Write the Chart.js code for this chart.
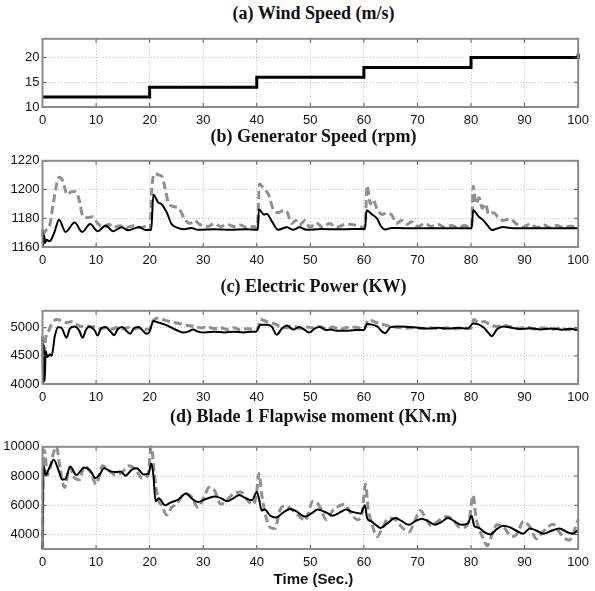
<!DOCTYPE html>
<html>
<head>
<meta charset="utf-8">
<script src="https://cdn.jsdelivr.net/npm/chart.js@4.4.0/dist/chart.umd.min.js"></script>
<style>
  body { margin: 0; background: #fff; }
  #wrap { position: relative; width: 595px; height: 591px; overflow: hidden; }
  canvas { position: absolute; left: 0; }
  .ttl { position: absolute; left: 42px; width: 543px; text-align: center;
         font: bold 18px "Liberation Serif", "Times New Roman", serif; color: #111; white-space: nowrap; }
  .xl { position: absolute; left: 42px; width: 543px; text-align: center;
        font: bold 15px "Liberation Sans", Arial, sans-serif; color: #111; }
</style>
</head>
<body>
<div id="wrap">
  <div class="ttl" style="top:3px">(a) Wind Speed (m/s)</div>
  <canvas id="ca" width="595" height="105" style="top:28px"></canvas>
  <div class="ttl" style="top:126px">(b) Generator Speed (rpm)</div>
  <canvas id="cb" width="595" height="123" style="top:150px"></canvas>
  <div class="ttl" style="top:276px">(c) Electric Power (KW)</div>
  <canvas id="cc" width="595" height="110" style="top:300px"></canvas>
  <div class="ttl" style="top:406px">(d) Blade 1 Flapwise moment (KN.m)</div>
  <canvas id="cd" width="595" height="139" style="top:436px"></canvas>
  <div class="xl" style="top:570px">Time (Sec.)</div>
</div>
<script>
// time axis shared by all panels
const timeTicks = [0, 10, 20, 30, 40, 50, 60, 70, 80, 90, 100];

// (a) wind speed, step input
const windSpeed = [[0, 12], [20, 14], [40, 16], [60, 18], [80, 20], [99.6, 20], [100, 20.8]];
const windTicks = [10, 15, 20];

// (b) generator speed, rpm  (solid = black, dashed = grey)
const genSolid = [[0,1172],[0.15,1161],[0.3,1168],[0.5,1163],[0.8,1165],[1.2,1164],[1.6,1165],[2.2,1170],[3.1,1179],[4.3,1170.5],[6.0,1177],[7.4,1170.5],[8.9,1176],[10.3,1171],[11.8,1175],[13.2,1171],[14.8,1173.7],[16.0,1171.6],[18.0,1174],[19.2,1171.8],[20.3,1172],[20.7,1196.4],[21.6,1191],[22.2,1190],[23.2,1184],[24.1,1176],[25.0,1173.7],[26.5,1172.4],[27.8,1173.3],[29.0,1172],[32,1172.3],[35,1172],[38,1172.3],[40.2,1172],[40.4,1186.3],[41.3,1182.7],[41.9,1183],[42.8,1178],[44.0,1172],[45.6,1173.7],[46.8,1172],[48.0,1173.7],[49.3,1172],[52,1172.5],[55,1172.3],[58,1172.5],[60.2,1172.5],[60.5,1185.5],[61.5,1182.7],[62.5,1179.6],[63.1,1175],[64.0,1172.2],[65.2,1173.3],[68,1173],[72,1173],[76,1173],[80.1,1173],[80.4,1185.5],[81.4,1181.3],[82.3,1178.5],[83.3,1174],[83.9,1171.8],[84.8,1172.8],[86.0,1174],[87.3,1173.3],[90,1173],[95,1173],[100,1173]];
const genDash = [[0,1168],[0.5,1171],[1.4,1176],[2.0,1190],[3.1,1208.6],[3.8,1206],[4.6,1196.4],[5.4,1198.5],[6.2,1198.5],[6.9,1192],[7.5,1181.7],[8.6,1180.6],[9.4,1181],[10.3,1176.4],[11.5,1173.7],[12.4,1175.8],[13.3,1173.7],[14.5,1174.8],[15.7,1173.5],[17,1174.8],[18.3,1173.5],[19.5,1174.5],[20.1,1172],[20.4,1200.6],[21.0,1211],[21.8,1210],[22.3,1209],[22.9,1200.6],[23.6,1190],[24.7,1188],[25.6,1186.3],[26.5,1179.6],[27.5,1176.4],[28.4,1178.5],[29.3,1175.8],[30.9,1174.3],[32.1,1176.4],[33.3,1174.3],[34.5,1175.8],[35.7,1174.3],[37,1175.4],[38.2,1173.3],[39.4,1174.3],[40.1,1173.3],[40.5,1203.8],[41.3,1200.6],[42.2,1196.4],[43.1,1186],[44,1184],[45,1185.5],[45.7,1184],[46.5,1176.4],[47.3,1178.5],[48,1175.4],[49,1178.5],[49.9,1173.7],[51.1,1176.8],[52.3,1173.7],[53.6,1176.4],[54.8,1173.7],[56.6,1175.8],[58.2,1175.4],[59.7,1173.7],[60.2,1174],[60.6,1202.7],[61.2,1190],[61.7,1193],[62.5,1186],[63.4,1182.7],[64.3,1183.8],[65.3,1181.7],[66.1,1176.4],[67,1178.5],[68,1175.8],[68.9,1177.5],[70.1,1174.3],[71.4,1176.4],[72.6,1174.3],[73.8,1175.8],[75.1,1173.7],[76.3,1175],[77.5,1173.7],[78.8,1175],[79.7,1173.7],[80.1,1174],[80.4,1202.3],[80.9,1190],[81.5,1194.3],[82.1,1187],[82.7,1190],[83.3,1182.7],[84.2,1183.8],[85.1,1180.6],[86,1178.5],[87.3,1179.6],[88.5,1176],[89.8,1174],[91,1176],[92.3,1173.5],[93.5,1175.5],[94.8,1173.5],[96,1175],[97.3,1173.5],[98.5,1174.5],[100,1174]];
const genTicks = [1160, 1180, 1200, 1220];

// (c) electric power, kW
const powSolid = [[0,4850],[0.1,4000],[0.25,4700],[0.4,4050],[0.6,4580],[0.9,4480],[1.4,4527],[1.7,4500],[2.3,4850],[2.9,5010],[3.5,5000],[4.5,4823],[5.1,4984],[6,5020],[6.8,4957],[7.5,4823],[8.1,4957],[8.7,5020],[9.7,4957],[10.3,4860],[10.9,4984],[11.8,5011],[12.7,4930],[13.4,4866],[14,4968],[14.9,5011],[15.8,4930],[16.4,4892],[17,4984],[17.9,5011],[18.9,4930],[19.5,4892],[20,4930],[20.7,5118],[21.6,5091],[22.9,5054],[24.1,5000],[25.3,4946],[26.2,4914],[27.2,4930],[28.1,4968],[29,4930],[30.3,4914],[32.1,4930],[34,4914],[35.7,4930],[37.6,4914],[38.8,4930],[39.9,4930],[40.7,5054],[41.9,5054],[42.8,5021],[43.7,4876],[44.7,4984],[45.6,5038],[46.8,4968],[48,5011],[49,4957],[49.8,4914],[50.8,4984],[51.7,5011],[53,4957],[53.9,4968],[54.8,4946],[56.6,4946],[58.5,4957],[60,4957],[60.6,5065],[61.5,5054],[62.5,5021],[63.4,4930],[64,4903],[65,5011],[66.5,5021],[68.4,5011],[70.1,5000],[72,4984],[73.8,5000],[75.7,4984],[77.5,5000],[79.4,4984],[80.4,5075],[81.5,5054],[82.4,5000],[83.3,4903],[83.9,4850],[84.8,4968],[86,5021],[87.6,5000],[89,4975],[91,4990],[93,4970],[95,4985],[97,4965],[98.5,4980],[100,4955]];
const powDash = [[0.3,4300],[0.5,4742],[1.1,4930],[1.7,5065],[2.6,5145],[3.5,5130],[4.5,5091],[5.4,5108],[6.3,5065],[7.2,5021],[8.1,5038],[9,5011],[10,5021],[10.9,4984],[11.8,5000],[13,4975],[14,5010],[15,4980],[16,5005],[17,4975],[18,5000],[19,4970],[20,4980],[20.4,5091],[21.6,5172],[22.5,5145],[23.4,5118],[24.7,5091],[25.9,5065],[27.2,5038],[28.4,5021],[29.6,5000],[30.9,5011],[32.1,4984],[33.3,5000],[34.5,4968],[35.7,5000],[37,4957],[38.2,4984],[39.4,4968],[40.1,4970],[40.7,5145],[41.6,5118],[42.5,5091],[43.5,5065],[44.3,5021],[45.6,5000],[46.8,5038],[48,4984],[49.3,5011],[50.5,5000],[51.7,5021],[53,4984],[54.2,5011],[55.4,4968],[56.6,5000],[57.9,5011],[59.1,5000],[60,4984],[60.9,5145],[61.9,5108],[62.8,5075],[63.7,5054],[65,5021],[66.5,5005],[68,4990],[69.5,5005],[71,4985],[72.5,5000],[74,4980],[75.5,5000],[77,4980],[78.5,5000],[80,4985],[80.5,5145],[81.5,5091],[82.4,5108],[83.6,5054],[84.8,5021],[86,5038],[87.6,5011],[89,4990],[90.5,5005],[92,4975],[93.5,5000],[95,4970],[96.5,4995],[98,4965],[100,4985]];
const powTicks = [4000, 4500, 5000];

// (d) blade 1 flapwise moment, kN.m
const flapSolid = [[0,3000],[0.2,8695],[0.6,8063],[1.3,8590],[2.1,9116],[2.9,8484],[3.7,7747],[4.3,7810],[5.2,8653],[6.3,8063],[7.8,8590],[8.9,8380],[9.9,7853],[10.6,8063],[11.5,8526],[12.7,8316],[13.8,8274],[14.6,8316],[15.5,8021],[16.7,8442],[17.6,8526],[18.9,8105],[19.8,8168],[20.3,8863],[20.7,8063],[21.1,6274],[21.7,6484],[22.9,6000],[24.1,6211],[25.3,6380],[26.8,6800],[27.8,6484],[29,6211],[30.5,6421],[32.1,6590],[33.3,6484],[34.5,6274],[35.7,6484],[36.7,6695],[37.9,6484],[39.1,6337],[40,6905],[40.4,6484],[40.9,5642],[41.5,5705],[42.5,5284],[43.6,5158],[44.7,5432],[46.2,5747],[47.4,5579],[49,5221],[50.2,5432],[51.4,5705],[53,5495],[54.2,5284],[55.7,5537],[56.6,5705],[57.9,5537],[59.4,5432],[60.2,6000],[60.6,5116],[61.3,4906],[62.2,4653],[63.1,4442],[64.3,4737],[65.9,5116],[67.1,4906],[68.4,4653],[69.6,4906],[70.8,5074],[72,4906],[73.3,4653],[74.5,4863],[75.7,5116],[76.9,4906],[78.2,4653],[79.4,4737],[80.1,5284],[80.6,4590],[81.5,4442],[82.4,4170],[83.6,4000],[84.8,4358],[86,4590],[87.3,4484],[88.5,4250],[89.7,4050],[91,4400],[92.3,4250],[93.5,4050],[95,4250],[96.5,4400],[98,4150],[99,4050],[100,4300]];
const flapDash = [[0,3000],[0.2,9800],[0.5,9537],[0.9,8063],[1.4,8484],[2,9500],[2.6,10000],[3.3,8500],[4.1,7220],[5.1,8590],[6,7853],[6.9,7747],[7.8,8695],[9.1,8168],[10,7432],[11.2,8695],[12.4,8380],[13.7,8063],[14.9,8274],[16.1,8695],[17.3,8484],[18.6,7853],[19.7,8063],[20.3,10000],[20.9,8063],[21.6,6379],[22.3,5958],[23.2,5326],[24.1,5853],[25,6063],[26.6,6800],[27.8,6590],[29,5853],[30.2,6590],[31.1,7221],[32.1,7010],[33.3,6063],[34.5,6379],[35.7,6800],[37,6905],[38.2,6379],[39.1,6063],[39.9,6590],[40.4,8168],[40.9,6800],[41.5,5537],[42.5,4484],[43.4,4400],[44.3,5642],[45.2,5958],[46.4,5747],[48,5221],[49,4948],[50.5,6274],[51.7,5958],[53,5011],[54.2,5642],[55.4,5958],[56.4,6063],[57.6,5432],[58.8,5011],[59.7,5537],[60.3,7432],[60.8,5747],[61.5,4700],[62.5,3853],[63.4,4380],[64.6,5116],[65.9,5011],[67.1,4484],[68.4,4170],[69.6,5011],[70.5,5642],[71.4,5221],[72.6,4590],[73.8,4906],[75.4,5221],[76.6,5011],[77.9,4484],[78.8,4484],[79.7,5116],[80.4,6695],[80.9,5221],[81.5,4380],[82.4,3642],[83,3221],[84.2,4274],[84.8,4653],[86,4527],[87.6,3853],[88.5,4000],[89.8,4900],[91,4500],[92.2,3700],[93.5,4200],[95.3,4700],[96.8,4000],[98.3,3600],[100,5000]];
const flapTicks = [4000, 6000, 8000, 10000];

const tickFont = { family: '"Liberation Sans Narrow", "Liberation Sans", Arial, sans-serif', size: 13 };

// matlab style box with inward ticks
const boxPlugin = {
  id: 'box',
  afterDraw(chart) {
    const { ctx, chartArea: a, scales } = chart;
    ctx.save();
    ctx.strokeStyle = '#555';
    ctx.lineWidth = 1;
    timeTicks.forEach(t => {
      const x = scales.x.getPixelForValue(t);
      ctx.beginPath();
      ctx.moveTo(x, a.bottom); ctx.lineTo(x, a.bottom - 4);
      ctx.moveTo(x, a.top); ctx.lineTo(x, a.top + 4);
      ctx.stroke();
    });
    scales.y.ticks.forEach(tk => {
      const y = scales.y.getPixelForValue(tk.value);
      ctx.beginPath();
      ctx.moveTo(a.left, y); ctx.lineTo(a.left + 4, y);
      ctx.moveTo(a.right, y); ctx.lineTo(a.right - 4, y);
      ctx.stroke();
    });
    ctx.strokeStyle = '#8a8a8a';
    ctx.lineWidth = 2;
    ctx.strokeRect(a.left, a.top, a.right - a.left, a.bottom - a.top);
    ctx.restore();
  }
};

function toXY(pairs) {
  return pairs.map(p => ({ x: p[0], y: p[1] }));
}

function solid(pairs, width) {
  return { data: toXY(pairs), borderColor: '#000', borderWidth: width, pointRadius: 0,
           cubicInterpolationMode: 'monotone', clip: 2 };
}

function dashed(pairs) {
  return { data: toXY(pairs), borderColor: '#909090', borderWidth: 3, borderDash: [8, 4],
           pointRadius: 0, cubicInterpolationMode: 'monotone', clip: 2 };
}

function panel(id, datasets, yMin, yMax, yTicks) {
  new Chart(document.getElementById(id), {
    type: 'line',
    data: { datasets: datasets },
    plugins: [boxPlugin],
    options: {
      responsive: false,
      animation: false,
      layout: { padding: { top: 4, right: 10, left: 0, bottom: 0 } },
      plugins: { legend: { display: false }, tooltip: { enabled: false } },
      scales: {
        x: {
          type: 'linear', min: 0, max: 100,
          afterBuildTicks: s => { s.ticks = timeTicks.map(v => ({ value: v })); },
          afterFit: s => { s.height = 26; },
          grid: { color: '#c4c4c4', lineWidth: 1, drawTicks: false },
          border: { display: false, dash: [1, 2] },
          ticks: { font: tickFont, color: '#111', padding: 6, maxRotation: 0, callback: v => String(v) }
        },
        y: {
          min: yMin, max: yMax,
          afterBuildTicks: s => { s.ticks = yTicks.map(v => ({ value: v })); },
          afterFit: s => { s.width = 42.5; },
          grid: { color: '#c4c4c4', lineWidth: 1, drawTicks: false },
          border: { display: false, dash: [1, 2] },
          ticks: { font: tickFont, color: '#111', padding: 3, callback: v => String(v) }
        }
      }
    }
  });
}

panel('ca', [Object.assign(solid(windSpeed, 3), { stepped: 'before', cubicInterpolationMode: 'default' })], 10, 23.8, windTicks);
panel('cb', [solid(genSolid, 2), dashed(genDash)], 1160, 1220, genTicks);
panel('cc', [solid(powSolid, 2), dashed(powDash)], 4000, 5300, powTicks);
panel('cd', [solid(flapSolid, 2), dashed(flapDash)], 3000, 10000, flapTicks);
</script>
</body>
</html>
